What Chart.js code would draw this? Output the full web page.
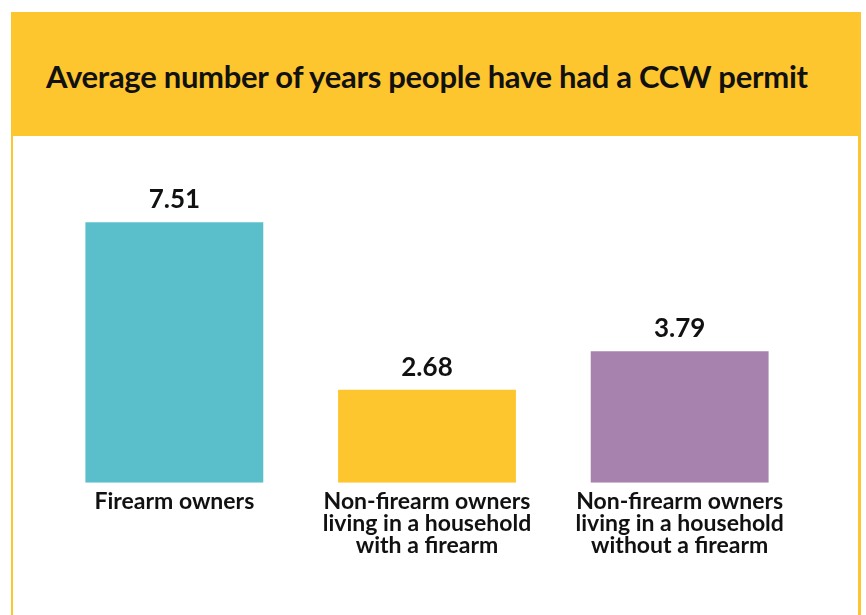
<!DOCTYPE html>
<html>
<head>
<meta charset="utf-8">
<script src="https://cdn.jsdelivr.net/npm/chart.js@4"></script>
<style>
  html, body { margin: 0; padding: 0; background: #fff; }
  body { width: 866px; height: 615px; position: relative; overflow: hidden; font-family: Lato, sans-serif; }
  .frame { position: absolute; left: 11px; top: 12px; width: 850px; height: 603px; background: #FEC62E; }
  .header { position: absolute; left: 0; top: 0; width: 850px; height: 124px; }
  .header h1 { margin: 0; position: absolute; left: 35px; top: 46px; font-size: 31px; font-weight: 700; color: #111; white-space: nowrap; letter-spacing: -0.28px; line-height: 36px; }
  .panel { position: absolute; left: 2px; top: 124px; width: 845px; height: 479px; background: #fff; }
  #chart { position: absolute; left: 0; top: 0; }
</style>
</head>
<body>
<div class="frame">
  <div class="header"><h1>Average number of years people have had a CCW permit</h1></div>
  <div class="panel"><canvas id="chart" width="845" height="479"></canvas></div>
</div>
<script>
const categories = [
  ["Firearm owners"],
  ["Non-firearm owners", "living in a household", "with a firearm"],
  ["Non-firearm owners", "living in a household", "without a firearm"]
];
const avgYears = [7.51, 2.68, 3.79];
const barColors = ["#5BBFCB", "#FEC62E", "#A882AE"];

// value labels above each bar
const valueLabels = {
  id: "valueLabels",
  afterDatasetsDraw(chart) {
    const ctx = chart.ctx;
    ctx.save();
    ctx.font = "700 26px Lato";
    ctx.fillStyle = "#111";
    ctx.textAlign = "center";
    ctx.textBaseline = "alphabetic";
    chart.getDatasetMeta(0).data.forEach((bar, i) => {
      ctx.fillText(avgYears[i].toFixed(2), bar.x, bar.y - 14);
    });
    ctx.restore();
  }
};

new Chart(document.getElementById("chart"), {
  type: "bar",
  data: {
    labels: categories,
    datasets: [{
      data: avgYears,
      backgroundColor: barColors,
      barPercentage: 0.704,
      categoryPercentage: 1
    }]
  },
  options: {
    responsive: false,
    animation: false,
    layout: { padding: { left: 35, right: 52, top: 0, bottom: 50 } },
    plugins: { legend: { display: false }, tooltip: { enabled: false } },
    scales: {
      y: { display: false, min: 0, max: 10 },
      x: {
        grid: { display: false, drawTicks: false },
        border: { display: false },
        ticks: {
          color: "#111",
          padding: 8,
          maxRotation: 0,
          autoSkip: false,
          font: { family: "Lato", size: 23, weight: "700", lineHeight: 0.96 }
        }
      }
    }
  },
  plugins: [valueLabels]
});
</script>
</body>
</html>
